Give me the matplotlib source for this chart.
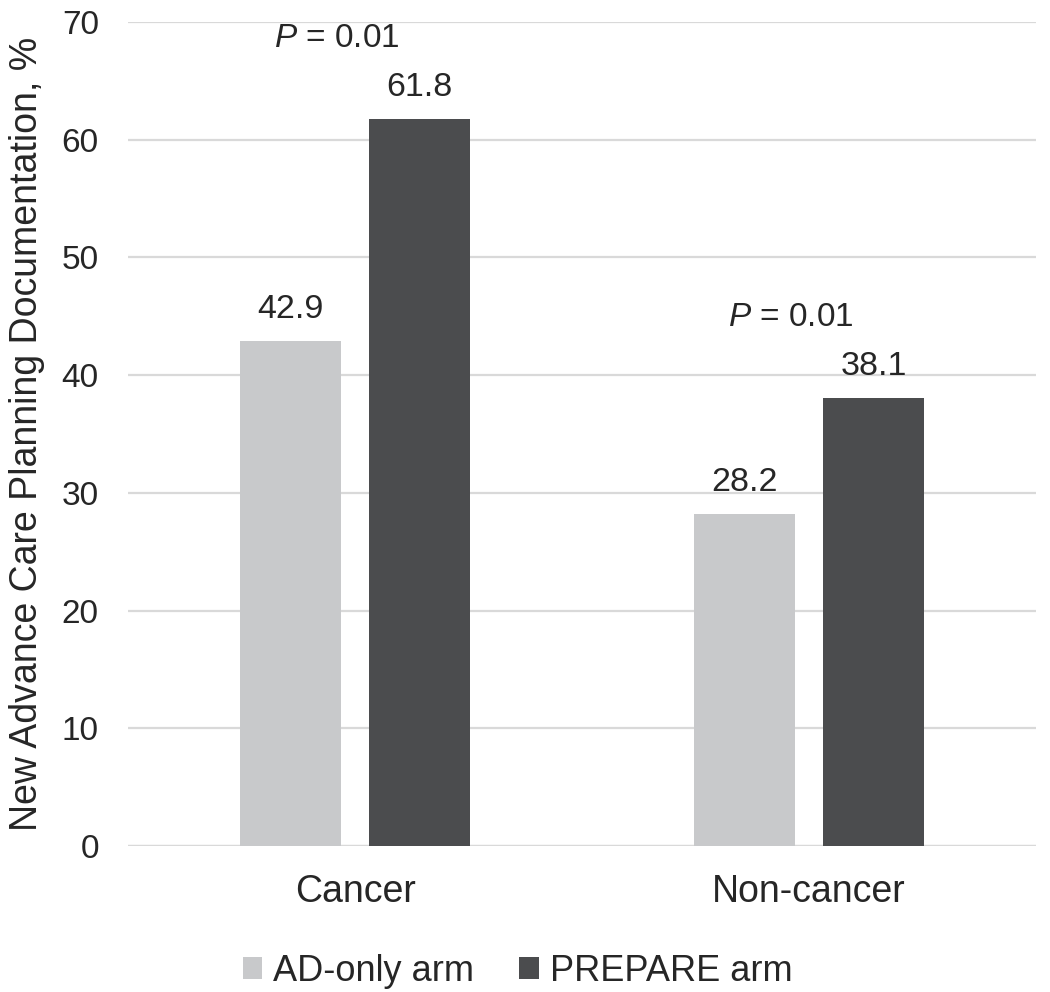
import matplotlib
matplotlib.use("Agg")
import matplotlib.pyplot as plt
import numpy as np

categories = ["Cancer", "Non-cancer"]
series_names = ["AD-only arm", "PREPARE arm"]
ad_only = [42.9, 28.2]
prepare = [61.8, 38.1]
p_labels = ["0.01", "0.01"]
y_ticks = [0, 10, 20, 30, 40, 50, 60, 70]

colors = ["#c8c9cb", "#4b4c4e"]
text_color = "#262626"
grid_color = "#d9d9d9"

plt.rcParams['font.family'] = ['Liberation Sans', 'DejaVu Sans']
plt.rcParams['mathtext.fontset'] = 'custom'
plt.rcParams['mathtext.it'] = 'Liberation Sans:italic'
plt.rcParams['mathtext.rm'] = 'Liberation Sans'

fig = plt.figure(figsize=(10.5, 9.92), dpi=100)
ax = fig.add_axes([0.1219, 0.1472, 0.8648, 0.8306])

x = np.arange(len(categories))
width = 0.223
offset = 0.1424

b1 = ax.bar(x - offset, ad_only, width, color=colors[0], label=series_names[0], zorder=3)
b2 = ax.bar(x + offset, prepare, width, color=colors[1], label=series_names[1], zorder=3)

for bars, vals in ((b1, ad_only), (b2, prepare)):
    for rect, v in zip(bars, vals):
        ax.annotate(f"{v:.1f}", (rect.get_x() + rect.get_width() / 2, v),
                    xytext=(0, 16.5), textcoords="offset points",
                    ha="center", va="baseline", fontsize=24.5, color=text_color)

for xi, v, p in zip(x, prepare, p_labels):
    ax.text(xi - 0.04, v + 6.8, r"$\it{P}$" + f" = {p}", ha="center", va="center",
            fontsize=24, color=text_color)

ax.set_xlim(-0.5, 1.5)
ax.set_ylim(0, 70)
ax.set_yticks(y_ticks)
ax.set_xticks(x)
ax.set_xticklabels(categories, fontsize=27)
ax.tick_params(axis='both', length=0, colors=text_color)
ax.tick_params(axis='y', labelsize=24, pad=21)
ax.tick_params(axis='x', pad=20)
ax.yaxis.grid(True, color=grid_color, linewidth=1.6, zorder=0)
ax.set_axisbelow(True)
for s in ax.spines.values():
    s.set_visible(False)
ax.axhline(0, color=grid_color, linewidth=1.6, zorder=1)

ax.set_ylabel("New Advance Care Planning Documentation, %", fontsize=27, color=text_color, labelpad=12)

leg = fig.legend(loc="center", bbox_to_anchor=(0.493, 0.021), ncol=2, frameon=False,
                 fontsize=26, handlelength=0.55, handleheight=0.55, handletextpad=0.3,
                 columnspacing=1.25, labelcolor=text_color)

fig.savefig("out.png", dpi=100)
